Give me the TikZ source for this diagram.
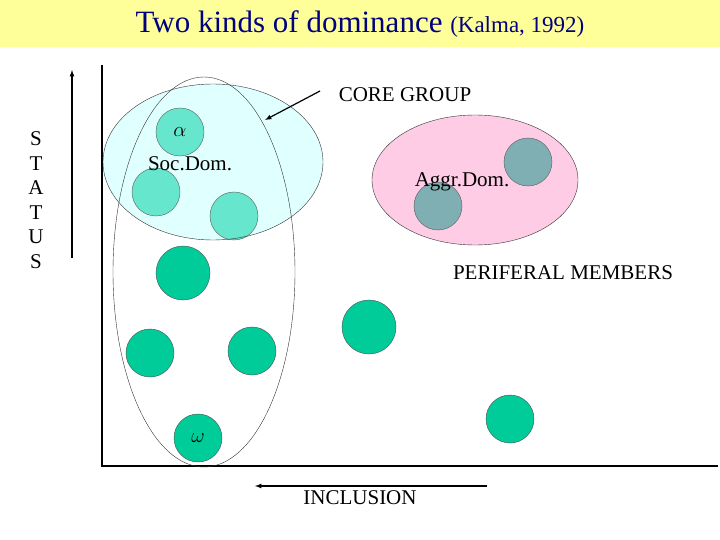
\documentclass[tikz,border=0pt]{standalone}
\usepackage{fontspec}
\setmainfont{Liberation Serif}
\definecolor{dk}{HTML}{00CC99}
\definecolor{lg}{HTML}{66E6CC}
\definecolor{gy}{HTML}{7FAFB3}
\definecolor{cy}{HTML}{E0FFFF}
\definecolor{pk}{HTML}{FFCCE6}
\definecolor{ttl}{HTML}{000080}
\definecolor{band}{HTML}{FFFF99}
\begin{document}
\begin{tikzpicture}[x=1pt,y=-1pt,
  light/.style={circle,draw=gray!70!black,fill=lg,minimum size=48pt,inner sep=0pt},
  dark/.style={circle,draw=black!70,fill=dk,minimum size=48pt,inner sep=0pt},
  grey/.style={circle,draw=gray!70!black,fill=gy,minimum size=48pt,inner sep=0pt},
  lbl/.style={font=\fontsize{21}{23}\selectfont,inner sep=0pt}]
\useasboundingbox (0,0) rectangle (720,540);
\fill[white] (0,0) rectangle (720,540);
\fill[band] (0,0) rectangle (720,47);
\node[text=ttl,inner sep=0pt] (title) at (360,24) {\fontsize{31}{33}\selectfont Two kinds of dominance \fontsize{23}{25}\selectfont(Kalma, 1992)};
% axes
\coordinate (o) at (102,466);
\coordinate (top) at (102,65);
\coordinate (right) at (718,466);
\draw[line width=1.8pt] (top) -- (o) -- (right);
% core group ellipse
\fill[cy] (213,162) ellipse [x radius=110, y radius=78];
\node[light] (alpha) at (180,132) {\fontsize{21}{23}\selectfont$\alpha$};
\node[light] (c2) at (156,192) {};
\node[light] (c3) at (234,216) {};
\draw[black!80] (213,162) ellipse [x radius=110, y radius=78];
\draw[black!80] (204,272) ellipse [x radius=91, y radius=195];
\node[lbl] (soc) at (190,164) {Soc.Dom.};
% aggr
\draw[black!80,fill=pk] (475,180) ellipse [x radius=103, y radius=65];
\node[grey] (g1) at (438,206) {};
\node[grey] (g2) at (528,162) {};
\node[lbl] (aggr) at (462,182) {Aggr.Dom.};
% dark circles
\node[dark,minimum size=54pt] (d1) at (183,273) {};
\node[dark] (d2) at (150,353) {};
\node[dark] (d3) at (252,351) {};
\node[dark,minimum size=54pt] (d4) at (369,327) {};
\node[dark] (omega) at (198,438) {\fontsize{21}{23}\selectfont$\omega$};
\node[dark] (d6) at (510,419) {};
% labels
\node[lbl] (core) at (405,95) {CORE GROUP};
\coordinate (ct) at (320,91);
\coordinate (ch) at (265,120);
\draw[line width=1.2pt,-latex] (ct) -- (ch);
\node[lbl] (peri) at (563,273) {PERIFERAL MEMBERS};
\node[lbl] (incl) at (360,498) {INCLUSION};
\coordinate (ia) at (487,486);
\coordinate (ib) at (255,486);
\draw[line width=1.2pt,-latex] (ia) -- (ib);
\node[lbl,align=center,font=\fontsize{21}{24.5}\selectfont] (status) at (36,200) {S\\T\\A\\T\\U\\S};
\coordinate (sa) at (72,258);
\coordinate (sb) at (72,70);
\draw[line width=1.2pt,-latex] (sa) -- (sb);
\end{tikzpicture}
\end{document}
